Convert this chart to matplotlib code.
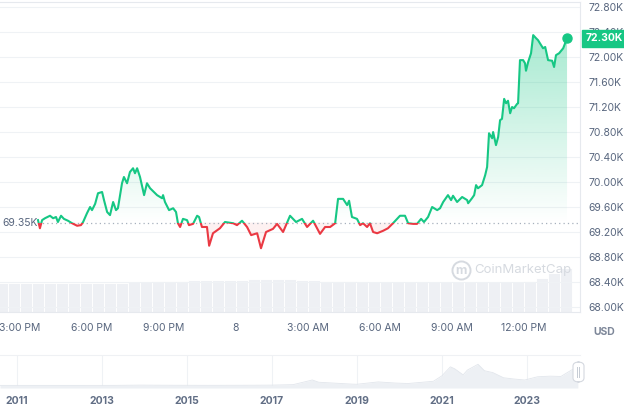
import numpy as np
import matplotlib
matplotlib.use('Agg')
import matplotlib.pyplot as plt
import matplotlib.transforms as mtransforms
from matplotlib.patches import Rectangle, FancyBboxPatch
from matplotlib.lines import Line2D
from matplotlib.path import Path

plt.rcParams['font.family'] = ['Inter', 'DejaVu Sans']

# price in thousands USD, hours counted from 3:00 PM
hours = [0.75, 0.83, 0.92, 1.04, 1.25, 1.38, 1.5, 1.58, 1.71, 1.83,
         2.0, 2.17, 2.38, 2.54, 2.63, 2.79, 2.92, 3.0, 3.13, 3.25,
         3.42, 3.5, 3.63, 3.75, 3.88, 4.0, 4.08, 4.25, 4.33, 4.46,
         4.58, 4.71, 4.79, 4.88, 5.0, 5.17, 5.29, 5.42, 5.71, 5.92,
         5.96, 6.04, 6.21, 6.38, 6.5, 6.58, 6.67, 6.79, 6.96, 7.04,
         7.21, 7.38, 7.46, 7.58, 7.79, 7.88, 8.04, 8.33, 8.54, 8.88,
         9.04, 9.25, 9.46, 9.63, 9.88, 10.04, 10.25, 10.54, 10.71, 10.96,
         11.25, 11.5, 11.75, 11.96, 12.21, 12.5, 12.71, 12.92, 13.13, 13.25,
         13.46, 13.63, 13.71, 13.83, 14.04, 14.17, 14.29, 14.46, 14.58, 14.71,
         14.88, 15.13, 15.33, 15.54, 15.71, 15.83, 16.04, 16.17, 16.38, 16.54,
         16.71, 16.83, 17.0, 17.17, 17.38, 17.5, 17.63, 17.83, 17.96, 18.04,
         18.21, 18.42, 18.63, 18.67, 18.83, 18.92, 19.0, 19.08, 19.25, 19.38,
         19.46, 19.54, 19.67, 19.71, 19.83, 19.92, 20.0, 20.08, 20.17, 20.25,
         20.33, 20.42, 20.5, 20.58, 20.71, 20.75, 20.83, 20.96, 21.04, 21.08,
         21.17, 21.29, 21.38, 21.5, 21.58, 21.71, 21.79, 21.88, 22.0, 22.17,
         22.25, 22.33, 22.46, 22.63, 22.79]
prices = [69.39, 69.26, 69.39, 69.42, 69.46, 69.42, 69.44, 69.36, 69.46, 69.41,
          69.38, 69.34, 69.30, 69.31, 69.36, 69.50, 69.60, 69.55, 69.65, 69.82,
          69.84, 69.71, 69.52, 69.47, 69.68, 69.55, 69.58, 69.98, 70.08, 69.98,
          70.16, 70.22, 70.14, 70.22, 70.08, 69.79, 69.98, 69.90, 69.79, 69.74,
          69.79, 69.68, 69.55, 69.58, 69.52, 69.34, 69.28, 69.41, 69.39, 69.31,
          69.33, 69.46, 69.44, 69.28, 69.28, 68.98, 69.18, 69.26, 69.36, 69.34,
          69.31, 69.38, 69.28, 69.15, 69.18, 68.94, 69.20, 69.25, 69.33, 69.20,
          69.46, 69.36, 69.41, 69.28, 69.38, 69.17, 69.28, 69.28, 69.34, 69.73,
          69.73, 69.63, 69.70, 69.44, 69.41, 69.31, 69.34, 69.28, 69.34, 69.20,
          69.18, 69.22, 69.26, 69.34, 69.41, 69.46, 69.46, 69.34, 69.33, 69.33,
          69.41, 69.36, 69.44, 69.60, 69.55, 69.58, 69.68, 69.79, 69.71, 69.78,
          69.68, 69.76, 69.71, 69.66, 69.74, 69.79, 69.95, 69.90, 69.95, 70.11,
          70.24, 70.78, 70.70, 70.80, 70.59, 70.72, 70.99, 71.01, 71.33, 71.26,
          71.30, 71.10, 71.20, 71.18, 71.25, 71.26, 71.95, 71.95, 71.90, 71.78,
          71.92, 72.06, 72.35, 72.30, 72.27, 72.19, 72.14, 72.16, 71.95, 71.94,
          71.84, 72.03, 72.06, 72.14, 72.30]
open_price = 69.35
last_label = '72.30K'

# volume bars, every half hour starting at -0.75 h (arbitrary units)
volume = [29.0, 29.0, 29.0,
          29.0, 29.0, 29.2, 29.0, 29.1, 29.3, 29.5, 29.4, 30.0, 30.5,
          31.0, 31.2, 31.5, 31.8, 32.0, 32.2, 32.4, 32.5, 32.8, 33.0,
          33.0, 32.8, 32.5, 32.0, 31.5, 31.0, 30.8, 30.5, 30.3, 30.0,
          30.0, 30.0, 29.8, 29.9, 30.0, 30.0, 30.1, 30.2, 30.2, 30.3,
          30.5, 31.0, 34.0, 39.0, 44.5]

x_ticks = [0, 3, 6, 9, 12, 15, 18, 21]
x_labels = ['3:00 PM', '6:00 PM', '9:00 PM', '8', '3:00 AM', '6:00 AM', '9:00 AM', '12:00 PM']
y_ticks = [68.0, 68.4, 68.8, 69.2, 69.6, 70.0, 70.4, 70.8, 71.2, 71.6, 72.0, 72.4, 72.8]

# history navigator (price in thousands)
nav_years = [2010.6, 2011.5, 2012.5, 2013.3, 2013.9, 2014.5, 2015.5, 2016.5, 2017.0, 2017.5,
             2017.95, 2018.1, 2018.5, 2018.9, 2019.0, 2019.5, 2019.9, 2020.2, 2020.5, 2020.8,
             2021.0, 2021.2, 2021.3, 2021.5, 2021.6, 2021.85, 2022.0, 2022.2, 2022.45, 2022.7,
             2022.95, 2023.25, 2023.55, 2023.8, 2023.95, 2024.1, 2024.2]
nav_price = [0.1, 0.1, 0.1, 0.2, 1.0, 0.6, 0.3, 0.6, 1.0, 2.5,
             17, 10, 7, 4, 3.7, 11, 7.5, 6, 9.5, 13,
             30, 58, 52, 33, 48, 66, 46, 40, 24, 20,
             17, 27, 29, 28, 40, 52, 62]
nav_ticks = [2011, 2013, 2015, 2017, 2019, 2021, 2023]

green = '#16c784'
red = '#ea3943'
label_gray = '#58667e'
grid_gray = '#eff2f5'

W, H = 624, 405
fig = plt.figure(figsize=(W / 100, H / 100), dpi=100)
fig.patch.set_facecolor('white')

ax = fig.add_axes([0, 1 - 312 / H, 580 / W, 310 / H])
axv = ax.twinx()
ax.set_zorder(axv.get_zorder() + 1)
ax.patch.set_visible(False)

t = np.array(hours)
p = np.array(prices)
ymin, ymax = 67.92, 72.88
ax.set_xlim(-0.833, 23.33)
ax.set_ylim(ymin, ymax)

# volume
vt = -0.75 + 0.5 * np.arange(len(volume))
axv.bar(vt, volume, width=0.5, color='#eef0f4', edgecolor='white', linewidth=0.7)
axv.set_ylim(0, 310)
axv.set_yticks([])
for s in axv.spines.values():
    s.set_visible(False)

# gradient fill above the open price
poly = ax.fill_between(t, p, open_price, where=p >= open_price, interpolate=True,
                       facecolor='none', edgecolor='none')
clip = Path.make_compound_path(*poly.get_paths())
grad = np.zeros((256, 1, 4))
grad[:, 0, :3] = matplotlib.colors.to_rgb(green)
grad[:, 0, 3] = np.linspace(0.38, 0.0, 256)
im = ax.imshow(grad, extent=[t[0], t[-1], open_price, 72.4], aspect='auto',
               origin='upper', zorder=1)
im.set_clip_path(clip, ax.transData)
ax.fill_between(t, p, open_price, where=p < open_price, interpolate=True,
                color=red, alpha=0.07, linewidth=0, zorder=1)

# line, green above and red below the open price
lg, = ax.plot(t, p, color=green, lw=1.5, zorder=3, solid_joinstyle='round')
lr, = ax.plot(t, p, color=red, lw=1.5, zorder=3, solid_joinstyle='round')
lg.set_clip_path(Rectangle((-5, open_price), 40, 10, transform=ax.transData))
lr.set_clip_path(Rectangle((-5, open_price - 10), 40, 10, transform=ax.transData))
ax.plot(t[-1], p[-1], 'o', color=green, markersize=6.5, zorder=4)

ax.hlines(open_price, t[0], 23.33, colors='#a7b0bd', linestyles=(0, (1, 2.5)), lw=0.9, zorder=2)
trans = mtransforms.blended_transform_factory(ax.transAxes, ax.transData)
ax.text(0.004, open_price, '69.35K', transform=trans, ha='left', va='center',
        fontsize=7.5, color=label_gray, zorder=5)

# axes styling
ax.yaxis.tick_right()
ax.set_yticks(y_ticks)
ax.set_yticklabels(['%.2fK' % v for v in y_ticks])
ax.set_xticks(x_ticks)
ax.set_xticklabels(x_labels)
ax.tick_params(axis='y', length=0, pad=6, labelsize=7.5, labelcolor=label_gray)
ax.tick_params(axis='x', length=0, pad=8, labelsize=7.5, labelcolor=label_gray)
ax.grid(axis='y', color=grid_gray, lw=0.8)
ax.set_axisbelow(True)
ax.spines['left'].set_visible(False)
for side in ['top', 'right', 'bottom']:
    ax.spines[side].set_color('#e6e9ee')
    ax.spines[side].set_linewidth(0.8)

ax.annotate(last_label, xy=(1.0, p[-1]), xycoords=trans, xytext=(4, 0),
            textcoords='offset points', ha='left', va='center', fontsize=7.5,
            fontweight='bold', color='white', annotation_clip=False, zorder=10,
            bbox=dict(boxstyle='square,pad=0.35', fc=green, ec=green))

fig.text(604 / W, 1 - 332 / H, 'USD', ha='center', va='center', fontsize=7.5,
         fontweight='bold', color='#7d8799')

# watermark
fig.add_artist(Line2D([461 / W], [1 - 270 / H], marker='o', markersize=13,
                      mfc='none', mec='#d6dae0', mew=1.4))
fig.text(461 / W, 1 - 271 / H, 'm', ha='center', va='center', fontsize=9,
         color='#d6dae0', fontweight='bold')
fig.text(474 / W, 1 - 270 / H, 'CoinMarketCap', ha='left', va='center',
         fontsize=9.5, color='#d6dae0')

# navigator
axn = fig.add_axes([0, 1 - 388 / H, 580 / W, 33 / H])
axn.fill_between(nav_years, nav_price, -8, color='#edf0f4', linewidth=0)
axn.plot(nav_years, nav_price, color='#e2e6ec', lw=0.6)
axn.set_xlim(2010.6, 2024.25)
axn.set_ylim(-8, 95)
axn.set_yticks([])
axn.set_xticks(nav_ticks)
axn.set_xticklabels([str(y) for y in nav_ticks])
axn.tick_params(axis='x', length=0, pad=6, labelsize=7.5, labelcolor='#616e85')
for lab in axn.get_xticklabels():
    lab.set_fontweight('bold')
axn.grid(axis='x', color=grid_gray, lw=0.8)
axn.set_axisbelow(True)
for side in ['left', 'right', 'bottom']:
    axn.spines[side].set_visible(False)
axn.spines['top'].set_color('#eff1f4')

fig.add_artist(FancyBboxPatch((573 / W, 1 - 382 / H), 11 / W, 20 / H,
                              boxstyle='round,pad=0,rounding_size=0.01',
                              transform=fig.transFigure, fc='white', ec='#d5d9e0', lw=0.8))
fig.text(578.5 / W, 1 - 372 / H, '||', ha='center', va='center', fontsize=6, color='#a7b0bd')

fig.savefig('out.png', dpi=100)
